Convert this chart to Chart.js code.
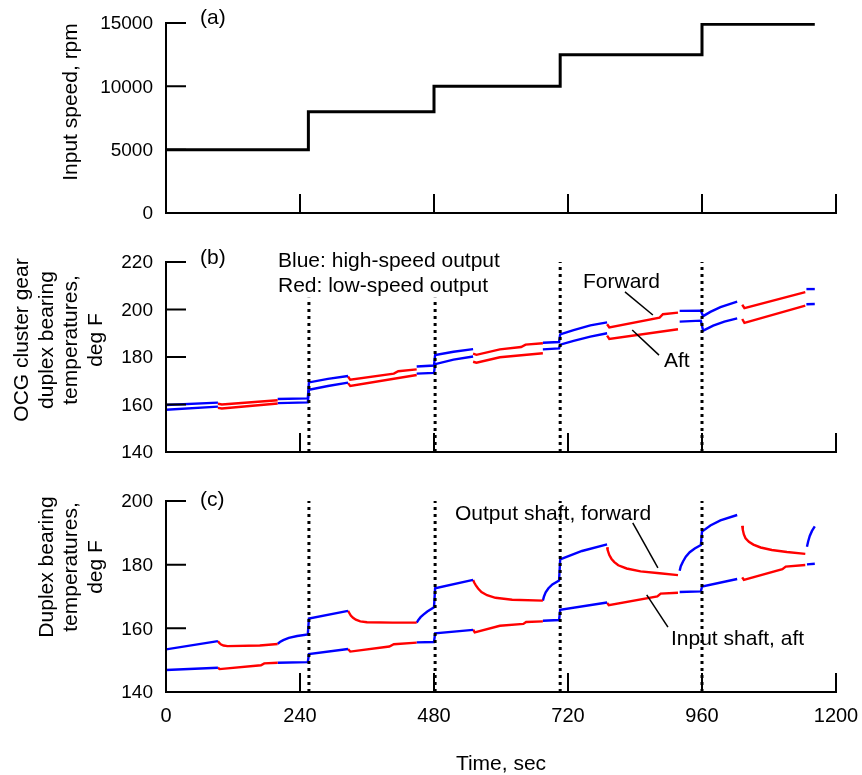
<!DOCTYPE html>
<html>
<head>
<meta charset="utf-8">
<script src="https://cdn.jsdelivr.net/npm/chart.js@4.4.0/dist/chart.umd.min.js"></script>
<style>
  body { margin: 0; background: #fff; }
  #wrap { position: relative; width: 862px; height: 775px; }
  canvas { position: absolute; left: 0; }
</style>
</head>
<body>
<div id="wrap">
  <canvas id="chartA" width="862" height="235" style="top:0"></canvas>
  <canvas id="chartB" width="862" height="235" style="top:235px"></canvas>
  <canvas id="chartC" width="862" height="305" style="top:470px"></canvas>
</div>
<script>
const FONT = "'Liberation Sans', Arial, Helvetica, sans-serif";

// axes
const timeTicks = [240, 480, 720, 960, 1200];
const timeLabels = [0, 240, 480, 720, 960, 1200];
const speedTicks = [5000, 10000, 15000];
const speedLabels = [0, 5000, 10000, 15000];
const ocgTicks = [160, 180, 200, 220];
const ocgLabels = [140, 160, 180, 200, 220];
const duplexTicks = [160, 180, 200];
const duplexLabels = [140, 160, 180, 200];

// (a) input speed, held until the next change
const speedTime = [0, 255, 480, 706, 960, 1162];
const speedRpm = [5000, 8000, 10000, 12500, 14900, 14900];

// speed changes (dotted markers)
const changeTimes = [256, 482, 706, 960];
const markerTopB = [205, 205, 220, 220];
const markerTopC = [200, 200, 200, 200];

// which output is active in each run: high-speed (blue) / low-speed (red)
const runColor = ['#0000ff', '#ff0000', '#0000ff', '#ff0000', '#0000ff', '#ff0000',
                  '#0000ff', '#ff0000', '#0000ff', '#ff0000', '#0000ff'];

// (b) OCG cluster gear duplex bearings, [time, degF] per run
const ocgForward = [
  [[0, 159.8], [93, 160.8]],
  [[93, 160.3], [100, 160.0], [200, 161.8]],
  [[200, 162.3], [254, 162.6], [256, 169.3], [290, 170.8], [326, 172.0]],
  [[326, 171.8], [330, 170.4], [408, 173.0], [416, 174.0], [449, 174.8]],
  [[449, 176.0], [480, 176.4], [482, 180.8], [515, 182.2], [550, 183.3]],
  [[550, 181.4], [556, 180.9], [598, 183.2], [636, 184.2], [644, 185.2], [675, 185.8]],
  [[675, 186.0], [704, 186.3], [706, 189.5], [730, 191.3], [760, 193.3], [790, 194.6]],
  [[790, 193.8], [794, 192.5], [884, 196.6], [890, 198.0], [917, 198.7]],
  [[920, 199.4], [958, 199.5], [962, 197.2], [975, 199.0], [993, 201.0], [1023, 203.3]],
  [[1032, 202.0], [1036, 200.6], [1145, 207.3]],
  [[1147, 208.6], [1162, 208.6]]
];
const ocgAft = [
  [[0, 157.8], [93, 159.1]],
  [[93, 158.6], [100, 158.3], [200, 160.4]],
  [[200, 160.6], [254, 160.9], [256, 166.2], [290, 167.8], [326, 169.2]],
  [[326, 169.0], [330, 167.8], [449, 172.4]],
  [[449, 173.0], [480, 173.3], [482, 177.0], [515, 178.9], [550, 180.2]],
  [[550, 178.0], [556, 177.6], [598, 179.9], [675, 181.6]],
  [[675, 183.2], [704, 183.6], [706, 185.2], [730, 186.8], [760, 188.6], [790, 190.0]],
  [[790, 189.0], [794, 187.6], [917, 191.7]],
  [[920, 194.9], [958, 195.3], [962, 191.1], [980, 193.2], [1000, 194.9], [1023, 196.3]],
  [[1032, 196.0], [1036, 194.4], [1145, 201.6]],
  [[1147, 202.2], [1162, 202.3]]
];

// (c) output shaft forward / input shaft aft duplex bearings
const outputForward = [
  [[0, 153.4], [93, 156.0]],
  [[93, 156.0], [95, 155.5], [98, 155.0], [103, 154.6], [110, 154.4], [168, 154.6], [200, 155.1]],
  [[200, 155.1], [204, 155.7], [210, 156.3], [220, 157.0], [235, 157.6], [254, 158.1],
   [256, 163.1], [326, 165.5]],
  [[326, 165.5], [328, 164.9], [331, 164.0], [335, 163.3], [340, 162.7], [348, 162.2],
   [360, 161.9], [406, 161.8], [449, 161.8]],
  [[449, 161.8], [452, 162.6], [456, 163.5], [461, 164.3], [468, 165.3], [480, 166.6],
   [482, 172.6], [550, 175.2]],
  [[550, 175.2], [552, 174.4], [555, 173.5], [559, 172.5], [565, 171.4], [575, 170.4],
   [590, 169.6], [620, 169.0], [675, 168.7]],
  [[675, 168.7], [677, 170.0], [680, 171.3], [685, 172.6], [692, 173.8], [704, 175.0],
   [706, 181.7], [745, 184.3], [790, 186.4]],
  [[790, 185.5], [791, 184.6], [794, 183.0], [798, 181.8], [803, 180.8], [810, 179.8],
   [825, 178.8], [850, 177.9], [884, 177.3], [917, 176.7]],
  [[920, 178.1], [922, 179.5], [926, 181.0], [931, 182.5], [938, 183.9], [947, 185.1],
   [958, 186.2], [960, 190.4], [975, 192.3], [993, 193.9], [1023, 195.6]],
  [[1032, 192.2], [1033, 191.0], [1035, 189.5], [1038, 188.3], [1044, 187.2], [1052, 186.3],
   [1065, 185.4], [1085, 184.6], [1112, 184.0], [1145, 183.4]],
  [[1148, 185.6], [1150, 187.2], [1153, 189.0], [1157, 190.6], [1162, 192.0]]
];
const inputAft = [
  [[0, 146.9], [93, 147.6]],
  [[93, 147.6], [96, 147.2], [170, 148.4], [176, 149.0], [200, 149.2]],
  [[200, 149.2], [254, 149.4], [256, 151.9], [326, 153.5]],
  [[326, 153.5], [330, 152.7], [400, 154.3], [408, 155.0], [449, 155.5]],
  [[449, 155.6], [480, 155.7], [482, 158.4], [550, 159.5]],
  [[550, 159.6], [553, 158.7], [598, 160.8], [640, 161.4], [645, 162.0], [675, 162.2]],
  [[675, 162.4], [704, 162.6], [706, 165.8], [790, 168.1]],
  [[790, 168.0], [793, 167.3], [880, 170.0], [886, 170.9], [917, 171.2]],
  [[920, 171.4], [958, 171.6], [960, 173.1], [1023, 175.5]],
  [[1032, 176.0], [1035, 175.2], [1104, 178.6], [1110, 179.4], [1145, 179.9]],
  [[1148, 180.1], [1162, 180.3]]
];

function runSets(series) {
  return series.map((run, i) => ({
    data: run.map(([t, v]) => ({ x: t, y: v })),
    borderColor: runColor[i],
    borderWidth: 2.4,
    pointRadius: 0
  }));
}

function markerSets(bottom, tops) {
  return changeTimes.map((t, i) => ({
    data: [{ x: t, y: bottom }, { x: t, y: tops[i] }],
    borderColor: '#000',
    borderWidth: 3,
    borderDash: [3, 4],
    pointRadius: 0
  }));
}

// frame: axis lines, inward ticks, labels and notes
const framePlugin = {
  id: 'frame',
  afterDraw(chart, args, o) {
    const { ctx, chartArea: a, scales: { x, y } } = chart;
    ctx.save();
    ctx.strokeStyle = '#000';
    ctx.lineWidth = 2;
    ctx.beginPath();
    ctx.moveTo(a.left, a.top - 1);
    ctx.lineTo(a.left, a.bottom);
    ctx.lineTo(a.right + 1, a.bottom);
    o.yTicks.forEach(v => {
      const py = y.getPixelForValue(v);
      ctx.moveTo(a.left, py);
      ctx.lineTo(a.left + 20, py);
    });
    timeTicks.forEach(t => {
      const px = x.getPixelForValue(t);
      ctx.moveTo(px, a.bottom);
      ctx.lineTo(px, a.bottom - 19);
    });
    ctx.stroke();

    // leader lines
    ctx.lineWidth = 1.5;
    (o.leaders || []).forEach(([t0, v0, t1, v1]) => {
      ctx.beginPath();
      ctx.moveTo(x.getPixelForValue(t0), y.getPixelForValue(v0));
      ctx.lineTo(x.getPixelForValue(t1), y.getPixelForValue(v1));
      ctx.stroke();
    });

    ctx.fillStyle = '#000';
    ctx.font = '19px ' + FONT;
    ctx.textAlign = 'right';
    ctx.textBaseline = 'middle';
    o.yLabels.forEach(v => ctx.fillText(String(v), a.left - 13, y.getPixelForValue(v) + 1));

    if (o.xLabels) {
      ctx.font = '20px ' + FONT;
      ctx.textAlign = 'center';
      ctx.textBaseline = 'alphabetic';
      timeLabels.forEach(t => ctx.fillText(String(t), x.getPixelForValue(t), a.bottom + 30));
      ctx.font = '21px ' + FONT;
      ctx.fillText('Time, sec', 501, a.bottom + 78);
    }

    ctx.font = '21px ' + FONT;
    ctx.textAlign = 'left';
    ctx.textBaseline = 'alphabetic';
    (o.notes || []).forEach(n => ctx.fillText(n.text, n.x, n.y));

    ctx.save();
    ctx.translate(o.titleX, o.titleY);
    ctx.rotate(-Math.PI / 2);
    ctx.textAlign = 'center';
    o.title.forEach((line, i) => ctx.fillText(line, 0, i * 24.6));
    ctx.restore();
    ctx.restore();
  }
};

function baseOptions(ymin, ymax, padding, frame) {
  return {
    responsive: false,
    animation: false,
    devicePixelRatio: 1,
    events: [],
    layout: { padding },
    scales: {
      x: { type: 'linear', min: 0, max: 1200, display: false },
      y: { type: 'linear', min: ymin, max: ymax, display: false }
    },
    plugins: { legend: { display: false }, tooltip: { enabled: false }, frame }
  };
}

new Chart(document.getElementById('chartA'), {
  type: 'line',
  data: {
    datasets: [{
      data: speedTime.map((t, i) => ({ x: t, y: speedRpm[i] })),
      borderColor: '#000',
      borderWidth: 3,
      pointRadius: 0,
      stepped: 'before'
    }]
  },
  options: baseOptions(0, 15000, { left: 166, right: 26, top: 23, bottom: 22 }, {
    yTicks: speedTicks,
    yLabels: speedLabels,
    title: ['Input speed, rpm'],
    titleX: 77, titleY: 102,
    notes: [{ text: '(a)', x: 200, y: 24 }]
  }),
  plugins: [framePlugin]
});

new Chart(document.getElementById('chartB'), {
  type: 'line',
  data: {
    datasets: [...markerSets(140, markerTopB), ...runSets(ocgForward), ...runSets(ocgAft)]
  },
  options: baseOptions(140, 220, { left: 166, right: 26, top: 27, bottom: 18 }, {
    yTicks: ocgTicks,
    yLabels: ocgLabels,
    title: ['OCG cluster gear', 'duplex bearing', 'temperatures,', 'deg F'],
    titleX: 28, titleY: 105,
    notes: [
      { text: '(b)', x: 200, y: 29 },
      { text: 'Blue: high-speed output', x: 278, y: 31.5 },
      { text: 'Red: low-speed output', x: 278, y: 56.5 },
      { text: 'Forward', x: 583, y: 53 },
      { text: 'Aft', x: 664, y: 132 }
    ],
    leaders: [[822, 207.4, 872, 197.7], [835, 191.4, 883, 180.8]]
  }),
  plugins: [framePlugin]
});

new Chart(document.getElementById('chartC'), {
  type: 'line',
  data: {
    datasets: [...markerSets(140, markerTopC), ...runSets(outputForward), ...runSets(inputAft)]
  },
  options: baseOptions(140, 200, { left: 166, right: 26, top: 31, bottom: 83 }, {
    yTicks: duplexTicks,
    yLabels: duplexLabels,
    xLabels: true,
    title: ['Duplex bearing', 'temperatures,', 'deg F'],
    titleX: 52.6, titleY: 97,
    notes: [
      { text: '(c)', x: 200, y: 36 },
      { text: 'Output shaft, forward', x: 455, y: 50 },
      { text: 'Input shaft, aft', x: 671, y: 175 }
    ],
    leaders: [[836, 193.1, 881, 179.0], [861, 170.5, 899, 160.4]]
  }),
  plugins: [framePlugin]
});
</script>
</body>
</html>
